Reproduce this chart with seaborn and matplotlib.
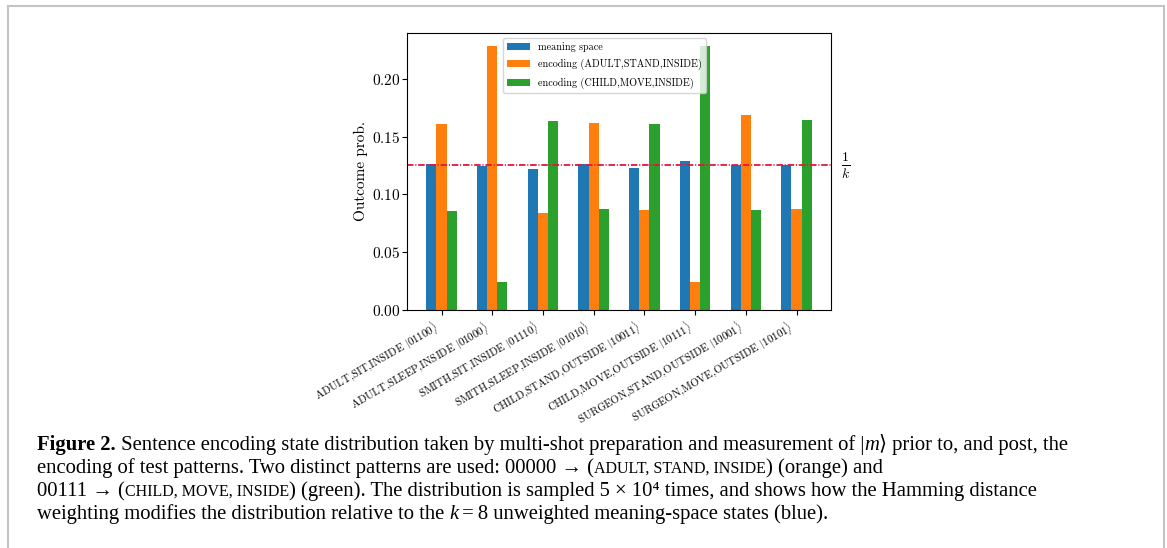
import matplotlib
matplotlib.use("Agg")
import matplotlib.pyplot as plt
import seaborn as sns
import pandas as pd
from matplotlib.patches import Patch
from matplotlib.lines import Line2D
from matplotlib.offsetbox import TextArea, HPacker, AnnotationBbox

# --- data ---
STATES = ["ADULT,SIT,INSIDE", "ADULT,SLEEP,INSIDE", "SMITH,SIT,INSIDE",
          "SMITH,SLEEP,INSIDE", "CHILD,STAND,OUTSIDE", "CHILD,MOVE,OUTSIDE",
          "SURGEON,STAND,OUTSIDE", "SURGEON,MOVE,OUTSIDE"]
KETS = ["01100", "01000", "01110", "01010", "10011", "10111", "10001", "10101"]
MEANING   = [0.1262, 0.1248, 0.1219, 0.1262, 0.1228, 0.1288, 0.1254, 0.1254]
ENC_ADULT = [0.1608, 0.2282, 0.0839, 0.1617, 0.0865, 0.0242, 0.1686, 0.0873]
ENC_CHILD = [0.0856, 0.0242, 0.1634, 0.0873, 0.1608, 0.2282, 0.0865, 0.1643]
SERIES = ["meaning space",
          "encoding (ADULT,STAND,INSIDE)",
          "encoding (CHILD,MOVE,INSIDE)"]
COLORS = ["#1f77b4", "#ff7f0e", "#2ca02c"]
K = 8

plt.rcParams.update({
    "font.family": "serif",
    "font.serif": ["cmr10"],
    "mathtext.fontset": "cm",
    "axes.formatter.use_mathtext": True,
    "axes.unicode_minus": False,
})

labels = [f"{s} $|{k}\\rangle$" for s, k in zip(STATES, KETS)]
df = pd.DataFrame({
    "state": labels * 3,
    "prob": MEANING + ENC_ADULT + ENC_CHILD,
    "series": [SERIES[0]] * 8 + [SERIES[1]] * 8 + [SERIES[2]] * 8,
})

fig = plt.figure(figsize=(11.67, 5.48), dpi=100)
ax = fig.add_axes([0.3488, 0.4343, 0.3633, 0.5055])

sns.barplot(data=df, x="state", y="prob", hue="series", hue_order=SERIES,
            palette=COLORS, saturation=1, width=0.6, errorbar=None,
            legend=False, ax=ax)

ax.axhline(1 / K, color="#e0163c", linestyle=(0, (3.6, 1.0, 0.6, 1.0)),
           linewidth=1.3)
ax.text(1.035, 1 / K, r"$\frac{1}{k}$", transform=ax.get_yaxis_transform(),
        ha="center", va="center", fontsize=14)

ax.set_xlim(-0.68, 7.68)
ax.set_ylim(0, 0.2396)
ax.set_xticks(range(len(labels)))
ax.set_xticklabels(labels, rotation=30, ha="right", fontsize=7.8)
ax.tick_params(axis="y", labelsize=11, pad=1)
ax.tick_params(axis="x", pad=2)
ax.set_xlabel("")
ax.set_ylabel("Outcome prob.", fontsize=11, labelpad=3)

handles = [Patch(facecolor=c) for c in COLORS]
ax.legend(handles, SERIES, loc="upper left", bbox_to_anchor=(0.226, 0.982),
          borderaxespad=0, fontsize=7.3, handlelength=2.3, labelspacing=0.7)

# --- frame around figure + caption ---
frame = dict(color="#c4c4c4", linewidth=1.5, transform=fig.transFigure)
fig.add_artist(Line2D([7.5 / 1167, 1163.5 / 1167], [1 - 5.5 / 548] * 2, **frame))
fig.add_artist(Line2D([7.5 / 1167] * 2, [0, 1 - 5.5 / 548], **frame))
fig.add_artist(Line2D([1163.5 / 1167] * 2, [0, 1 - 5.5 / 548], **frame))

CAP = 14.9
SC = 11.5
CAP_FONT = ["Liberation Serif", "DejaVu Serif"]
# (text, size, weight, style)
caption = [
    [("Figure 2.", CAP, "bold", "normal"),
     (" Sentence encoding state distribution taken by multi-shot preparation "
      "and measurement of |", CAP, "normal", "normal"),
     ("m", CAP, "normal", "italic"),
     ("\u27e9 prior to, and post, the", CAP, "normal", "normal")],
    [("encoding of test patterns. Two distinct patterns are used: "
      "00000 \u2192 (", CAP, "normal", "normal"),
     ("ADULT, STAND, INSIDE", SC, "normal", "normal"),
     (") (orange) and", CAP, "normal", "normal")],
    [("00111 \u2192 (", CAP, "normal", "normal"),
     ("CHILD, MOVE, INSIDE", SC, "normal", "normal"),
     (") (green). The distribution is sampled 5 \u00d7 10\u2074 times, and shows "
      "how the Hamming distance", CAP, "normal", "normal")],
    [("weighting modifies the distribution relative to the ", CAP, "normal", "normal"),
     ("k", CAP, "normal", "italic"),
     ("\u2009=\u20098 unweighted meaning-space states (blue).", CAP, "normal", "normal")],
]
bottoms = [455, 478, 501, 524]
for pieces, yb in zip(caption, bottoms):
    boxes = [TextArea(txt, textprops=dict(fontsize=size, fontweight=weight,
                                          fontstyle=style, family=CAP_FONT))
             for txt, size, weight, style in pieces]
    pack = HPacker(children=boxes, align="baseline", pad=0, sep=0)
    ab = AnnotationBbox(pack, (37 / 1167, 1 - yb / 548),
                        xycoords="figure fraction", box_alignment=(0, 0),
                        frameon=False, pad=0, annotation_clip=False)
    fig.add_artist(ab)

fig.savefig("out.png", dpi=100)
